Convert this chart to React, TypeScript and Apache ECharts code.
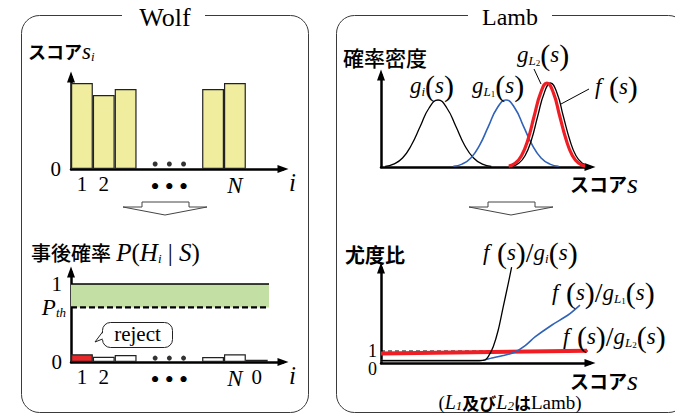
import React, { useEffect, useRef } from "react";
import * as echarts from "echarts";

const SERIF = "Liberation Serif";
const JP = "Noto Sans CJK JP";

// ---- Wolf: scores s_i on the i axis (slot centres, one slot per speaker) ----
const scoreSlots = [0.5, 1.5, 2.5, 6.5, 7.5];
const scores = [86, 74, 80, 80, 86];
const scoreMax = 92;
const scoreDotValue = 5;

// ---- Wolf: posterior P(H_i | S) ----
const postSlots = [0.5, 1.5, 2.5, 6.5, 7.5, 8.5];
const posteriors = [0.1, 0.068, 0.09, 0.064, 0.1, 0.03];
const rejectedIndex = 0;
const P_TH = 0.7;
const postMax = 1.154;
const postDotValue = 0.05;
const bandEnd = 9.06;

// i-axis ticks
const iMax = 9.7;
const iTickPos = [0.5, 1.5, 7.5, 8.5];
const iTickText = ["1", "2", "N", "0"];
const dotPos = [3.85, 4.5, 5.15];

// ---- Lamb: score densities ----
const gI = [[2, 0.7], [6, 2.9], [10.3, 9], [14.5, 21.8], [18.8, 40.7], [23, 59], [27.3, 67], [31.5, 59], [35.8, 40.7], [40, 21.8], [44.3, 9], [48.5, 2.9], [52.8, 0.7]];
const gL1 = [[34.6, 0.7], [38.8, 2.9], [43, 9], [47.2, 21.8], [51.4, 40.7], [55.6, 59], [59.8, 67], [64, 59], [68.2, 40.7], [72.4, 21.8], [76.6, 9], [80.8, 2.9], [85, 0.7]];
const gL2 = [[61.1, 0.9], [64.2, 3.7], [67.2, 11.3], [70.3, 27.3], [73.3, 51], [76.4, 74.1], [79.4, 84], [82.5, 74.1], [85.5, 51], [88.6, 27.3], [91.6, 11.3], [94.7, 3.7], [97.7, 0.9]];
const fS = [[62.8, 0.9], [65.9, 3.7], [68.9, 11.3], [72, 27.3], [75, 51], [78.1, 74.1], [81.1, 84], [84.2, 74.1], [87.2, 51], [90.3, 27.3], [93.3, 11.3], [96.4, 3.7], [99.4, 0.9]];
const densityMax = 92;

// ---- Lamb: likelihood ratios ----
const lrI = [[0, 0.2], [47, 0.2], [49.8, 0.25], [51.3, 0.53], [53.7, 1.36], [56.1, 2.75], [58.5, 4.7], [60.9, 6.64], [62.5, 8.0]];
const lrL1 = [[0, 0.2], [47, 0.2], [53.1, 0.42], [58.5, 0.62], [64.1, 0.92], [69, 1.45], [73.7, 2.17], [81.8, 3.17], [89.5, 4.0], [95.2, 4.83]];
const lrL2 = [[0, 0.8], [98.6, 1.02]];
const lrOne = [[0, 1], [100, 1]];
const lrMax = 7.92;
const lrTicks = [1];

const SLOT_PX = 21.85;

const axisLine = {
  show: true,
  onZero: true,
  symbol: ["none", "triangle"],
  symbolSize: [8, 11],
  lineStyle: { color: "#000", width: 2.5 },
};

const serif = (size: number, italic = false) => ({
  fontFamily: SERIF,
  fontSize: size,
  fontStyle: italic ? "italic" : "normal",
  fontWeight: "normal",
  color: "#000",
  fill: "#000",
});

const jp = (size: number, weight: string | number) => ({
  fontFamily: JP, fontWeight: weight, fontSize: size, color: "#000", fill: "#000",
});

const mathRich: Record<string, any> = {
  it: { ...serif(23, true), lineHeight: 24 },
  it25: serif(25, true),
  big: serif(28, true),
  n: serif(21),
  n25: serif(25),
  sub: { ...serif(13, true), verticalAlign: "bottom", lineHeight: 14 },
  subn: { ...serif(9), verticalAlign: "bottom", lineHeight: 9 },
  par: { ...serif(30), lineHeight: 26 },
  sl: { ...serif(28), lineHeight: 26 },
  jp: jp(18, "bold"),
  jp19: jp(19, "bold"),
  jp20: jp(20, "bold"),
  jpm: jp(20, 500),
  jpm21: { ...jp(21, 500), lineHeight: 20 },
  jpn: jp(17, "bold"),
  sm: serif(19),
  smi: serif(20, true),
  d: serif(26),
};

function iLabel(v: number, withZero: boolean) {
  const k = iTickPos.findIndex((p) => Math.abs(p - v) < 1e-6);
  if (k >= 0) {
    const t = iTickText[k];
    if (t === "0" && !withZero) return "";
    return t === "N" ? "{it|N}" : "{n|" + t + "}";
  }
  if (dotPos.some((p) => Math.abs(p - v) < 1e-6)) return "{d|•}";
  return "";
}

function text(x: number, y: number, t: string, align = "left", base: any = serif(21)) {
  return {
    type: "text",
    x,
    y,
    z: 10,
    style: {
      text: t,
      rich: mathRich,
      ...base,
      align,
      verticalAlign: "middle",
      textAlign: align,
      textVerticalAlign: "middle",
    },
  };
}

function hollowArrow(cx: number) {
  return {
    type: "polygon",
    z: 5,
    shape: {
      points: [
        [cx - 23, 207], [cx - 23, 202], [cx + 24, 202], [cx + 24, 207],
        [cx + 42, 207], [cx, 215], [cx - 42, 207],
      ],
    },
    style: { fill: "#fff", stroke: "#444", lineWidth: 1 },
  };
}

function buildOption(): any {
  const xi = (gridIndex: number, withZero: boolean) => ({
    gridIndex,
    type: "value",
    min: 0,
    max: iMax,
    axisLine,
    axisTick: { show: false },
    splitLine: { show: false },
    axisLabel: {
      customValues: withZero ? [...iTickPos, ...dotPos] : [...iTickPos.slice(0, 3), ...dotPos],
      formatter: (v: number) => iLabel(v, withZero),
      margin: 4,
      hideOverlap: false,
      rich: mathRich,
    },
    name: "i",
    nameLocation: "end",
    nameGap: 6,
    nameTextStyle: { ...serif(25, true), verticalAlign: "top", padding: [1, 0, 0, 0] },
  });
  const xs = (gridIndex: number) => ({
    gridIndex,
    type: "value",
    min: 0,
    max: 100,
    axisLine,
    axisTick: { show: false },
    splitLine: { show: false },
    axisLabel: { show: false },
  });

  const numLabel = { ...serif(21) };

  return {
    animation: false,
    backgroundColor: "#fff",
    grid: [
      { left: 71, top: 77, width: 212, height: 92 },
      { left: 71, top: 272, width: 212, height: 90 },
      { left: 381, top: 75, width: 209, height: 92 },
      { left: 381, top: 268, width: 209, height: 95 },
    ],
    xAxis: [xi(0, false), xi(1, true), xs(2), xs(3)],
    yAxis: [
      {
        gridIndex: 0, type: "value", min: 0, max: scoreMax, axisLine, axisTick: { show: false }, splitLine: { show: false },
        axisLabel: { customValues: [0], formatter: () => "0", margin: 10, showMinLabel: true, ...numLabel },
      },
      {
        gridIndex: 1, type: "value", min: 0, max: postMax, axisLine, axisTick: { show: false }, splitLine: { show: false },
        axisLabel: {
          customValues: [0, P_TH, 1],
          margin: 9,
          showMinLabel: true,
          hideOverlap: false,
          ...numLabel,
          formatter: (v: number) => (Math.abs(v - P_TH) < 1e-6 ? "{p|P}{s|th}" : String(v)),
          rich: {
            p: serif(23, true),
            s: { ...serif(13, true), verticalAlign: "bottom", lineHeight: 12, padding: [0, -4, 0, 0] },
          },
        },
      },
      { gridIndex: 2, type: "value", min: 0, max: densityMax, axisLine, axisTick: { show: false }, splitLine: { show: false }, axisLabel: { show: false } },
      {
        gridIndex: 3, type: "value", min: 0, max: lrMax, axisLine, axisTick: { show: false }, splitLine: { show: false },
        axisLabel: {
          customValues: lrTicks, margin: 4, showMinLabel: false, hideOverlap: false, ...serif(18), lineHeight: 12,
          formatter: (v: number) => String(v),
        },
      },
    ],
    series: [
      // scores s_i
      {
        type: "bar", xAxisIndex: 0, yAxisIndex: 0, barWidth: SLOT_PX,
        data: scoreSlots.map((x, i) => [x, scores[i]]),
        itemStyle: { color: "#F0EE9E", borderColor: "#222", borderWidth: 1.2 },
      },
      {
        type: "scatter", xAxisIndex: 0, yAxisIndex: 0, symbolSize: 5,
        data: dotPos.map((x) => [x, scoreDotValue]), itemStyle: { color: "#000" },
      },
      // acceptance band between P_th and 1
      {
        type: "line", xAxisIndex: 1, yAxisIndex: 1, symbol: "none",
        data: [[0, 1], [bandEnd, 1]], lineStyle: { color: "#000", width: 1.6 },
        markArea: { silent: true, itemStyle: { color: "#C4DFA3" }, data: [[{ coord: [0, P_TH] }, { coord: [bandEnd, 1] }]] },
      },
      {
        type: "line", xAxisIndex: 1, yAxisIndex: 1, symbol: "none",
        data: [[0, P_TH], [bandEnd, P_TH]], lineStyle: { color: "#000", width: 2.2, type: [6, 3] },
      },
      // posteriors
      {
        type: "bar", xAxisIndex: 1, yAxisIndex: 1, barWidth: SLOT_PX,
        data: postSlots.map((x, i) => ({
          value: [x, posteriors[i]],
          itemStyle: { color: i === rejectedIndex ? "#E8292C" : "#fff" },
        })),
        itemStyle: { borderColor: "#222", borderWidth: 1.2 },
      },
      {
        type: "scatter", xAxisIndex: 1, yAxisIndex: 1, symbolSize: 5,
        data: dotPos.map((x) => [x, postDotValue]), itemStyle: { color: "#000" },
      },
      // densities
      { type: "line", xAxisIndex: 2, yAxisIndex: 2, symbol: "none", smooth: true, data: gI, lineStyle: { color: "#000", width: 1.3 } },
      { type: "line", xAxisIndex: 2, yAxisIndex: 2, symbol: "none", smooth: true, data: gL1, lineStyle: { color: "#2F62B8", width: 1.6 } },
      { type: "line", xAxisIndex: 2, yAxisIndex: 2, symbol: "none", smooth: true, clip: false, data: fS, lineStyle: { color: "#000", width: 1.3 } },
      { type: "line", xAxisIndex: 2, yAxisIndex: 2, symbol: "none", smooth: true, data: gL2, lineStyle: { color: "#F01E24", width: 3.2 } },
      // likelihood ratios
      { type: "line", xAxisIndex: 3, yAxisIndex: 3, symbol: "none", data: lrOne, lineStyle: { color: "#000", width: 1.2, type: [4, 3] } },
      { type: "line", xAxisIndex: 3, yAxisIndex: 3, symbol: "none", data: lrL2, lineStyle: { color: "#F01E24", width: 4 } },
      { type: "line", xAxisIndex: 3, yAxisIndex: 3, symbol: "none", smooth: 0.3, data: lrL1, lineStyle: { color: "#2F62B8", width: 1.6 } },
      { type: "line", xAxisIndex: 3, yAxisIndex: 3, symbol: "none", smooth: 0.3, clip: false, data: lrI, lineStyle: { color: "#000", width: 1.3 } },
    ],
    graphic: [
      // panels
      { type: "rect", z: 1, shape: { x: 21.5, y: 15.5, width: 287, height: 397, r: 18 }, style: { fill: "none", stroke: "#3a3a3a", lineWidth: 1 } },
      { type: "rect", z: 1, shape: { x: 336.5, y: 15.5, width: 350, height: 397, r: 18 }, style: { fill: "none", stroke: "#3a3a3a", lineWidth: 1 } },
      { type: "rect", z: 2, shape: { x: 122, y: 6, width: 83, height: 20 }, style: { fill: "#fff" } },
      { type: "rect", z: 2, shape: { x: 468, y: 6, width: 84, height: 20 }, style: { fill: "#fff" } },
      text(165, 17, "Wolf", "center", serif(26)),
      text(510, 17, "Lamb", "center", serif(24)),

      hollowArrow(165),
      hollowArrow(511),

      // Wolf labels
      text(28, 51, "{jp|スコア}{it|s}{sub|i}"),
      text(31, 252, "{jpm|事後確率} {it25|P}{n25|(}{it25|H}{sub|i}{n25| | }{it25|S}{n25|)}"),

      // reject callout
      { type: "rect", z: 6, shape: { x: 102.5, y: 322.5, width: 70, height: 25, r: 8 }, style: { fill: "#fff", stroke: "#222", lineWidth: 1 } },
      { type: "polygon", z: 7, shape: { points: [[103.5, 332], [95, 342], [103.5, 339]] }, style: { fill: "#fff" } },
      { type: "polyline", z: 7, shape: { points: [[102.5, 332], [95, 342], [102.5, 339]] }, style: { stroke: "#222", lineWidth: 1, fill: "none" } },
      text(137.5, 334, "reject", "center", serif(21)),

      // Lamb labels
      text(343, 57, "{jpm21|確率密度}"),
      text(410, 85, "{it|g}{sub|i}{par|(}{it|s}{par|)}"),
      text(472, 85, "{it|g}{sub|L}{subn|1}{par|(}{it|s}{par|)}"),
      text(517, 54, "{it|g}{sub|L}{subn|2}{par|(}{it|s}{par|)}"),
      text(595, 86, "{it|f}{par| (}{it|s}{par|)}"),
      { type: "line", z: 6, shape: { x1: 534, y1: 69, x2: 541, y2: 84 }, style: { stroke: "#000", lineWidth: 1 } },
      { type: "line", z: 6, shape: { x1: 589, y1: 89, x2: 561, y2: 104 }, style: { stroke: "#000", lineWidth: 1 } },
      text(570, 183, "{jp19|スコア}{big|s}"),

      text(345, 254, "{jp20|尤度比}"),
      text(377, 369, "0", "right", { ...serif(18), lineHeight: 12 }),
      text(483, 252, "{it|f}{par| (}{it|s}{par|)}{sl|/}{it|g}{sub|i}{par|(}{it|s}{par|)}"),
      text(552, 292, "{it|f}{par| (}{it|s}{par|)}{sl|/}{it|g}{sub|L}{subn|1}{par|(}{it|s}{par|)}"),
      text(563, 336, "{it|f}{par| (}{it|s}{par|)}{sl|/}{it|g}{sub|L}{subn|2}{par|(}{it|s}{par|)}"),
      text(570, 380, "{jp19|スコア}{big|s}"),
      text(510, 402, "{sm|(}{smi|L}{sub|1}{jpn|及び}{smi|L}{sub|2}{jpn|は}{sm|Lamb)}", "center"),
    ],
  };
}

export default function App() {
  const ref = useRef<HTMLDivElement>(null);
  useEffect(() => {
    const chart = echarts.init(ref.current!, null, { renderer: "svg" });
    chart.setOption(buildOption());
    return () => chart.dispose();
  }, []);
  return (
    <div
      ref={ref}
      style={{ position: "fixed", left: 0, top: 0, width: 675, height: 415, background: "#fff" }}
    />
  );
}
